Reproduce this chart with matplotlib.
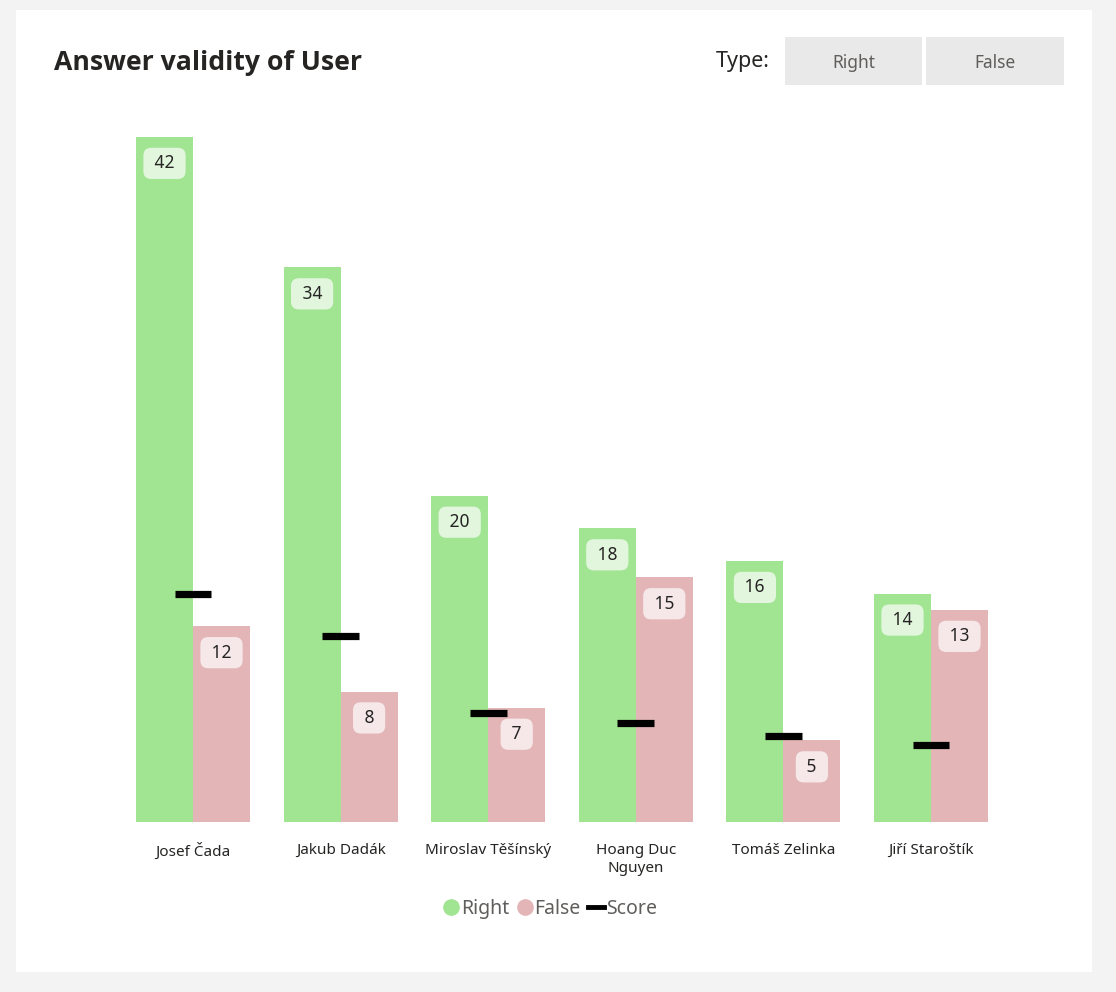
import matplotlib.pyplot as plt
import numpy as np
from matplotlib.patches import Rectangle
from matplotlib.lines import Line2D

plt.rcParams['font.family'] = ['Noto Sans', 'DejaVu Sans']

# data
users = ['Josef Čada', 'Jakub Dadák', 'Miroslav Těšínský', 'Hoang Duc\nNguyen',
         'Tomáš Zelinka', 'Jiří Staroštík']
right = [42, 34, 20, 18, 16, 14]
false = [12, 8, 7, 15, 5, 13]
score = [14.0, 11.4, 6.7, 6.1, 5.3, 4.7]

GREEN = '#a1e492'
PINK = '#e3b5b7'

W, H = 1116, 992
fig = plt.figure(figsize=(W / 100, H / 100), dpi=100)
fig.patch.set_facecolor('#f3f3f3')

# white card
fig.patches.append(Rectangle((16 / W, 1 - 972 / H), (1092 - 16) / W, (972 - 10) / H,
                             transform=fig.transFigure, fc='white', ec='none', zorder=-2))

fig.text(54 / W, 1 - 63 / H, 'Answer validity of User', fontsize=19.2, fontweight='bold',
         family=['Open Sans', 'DejaVu Sans'], color='#252423', va='center', ha='left')

# "Type" slicer
fig.text(770 / W, 1 - 61 / H, 'Type:', fontsize=15.5, color='#252423', va='center', ha='right')
for x0, x1, lab in [(785, 922, 'Right'), (926, 1064, 'False')]:
    fig.patches.append(Rectangle((x0 / W, 1 - 85 / H), (x1 - x0) / W, 48 / H,
                                 transform=fig.transFigure, fc='#e9e9e9', ec='none', zorder=-1))
    fig.text((x0 + x1) / 2 / W, 1 - 62.5 / H, lab, fontsize=12.5, color='#605e5c',
             va='center', ha='center')

# axes placed so baseline sits at y=822px and group centres at 193 + 147.6*i
L, R, T, B = 110, 1030, 120, 822
ax = fig.add_axes([L / W, 1 - B / H, (R - L) / W, (B - T) / H])
ax.set_facecolor('none')
step = 147.6
ax.set_xlim((L - 193) / step, (R - 193) / step)
ax.set_ylim(0, (B - T) / 16.31)

x = np.arange(len(users))
bw = 57 / step
ax.bar(x - bw / 2, right, bw, color=GREEN, zorder=2)
ax.bar(x + bw / 2, false, bw, color=PINK, zorder=2)
ax.hlines(score, x - 0.125, x + 0.125, color='black', lw=5.2, zorder=4)

# value labels: spaces widen the rounded box like the original
for xi, r, f in zip(x, right, false):
    for xx, v in [(xi - bw / 2, r), (xi + bw / 2, f)]:
        ax.annotate(f' {v} ', (xx, v), xytext=(0, -19), textcoords='offset points',
                    ha='center', va='center', fontsize=12.5, color='#252423', zorder=5,
                    bbox=dict(boxstyle='round,pad=0.38,rounding_size=0.45', fc='white',
                              ec='none', alpha=0.7))

ax.set_xticks(x)
ax.set_xticklabels(users, fontsize=11, color='#252423', linespacing=1.3)
ax.tick_params(axis='x', length=0, pad=15)
ax.set_yticks([])
for s in ax.spines.values():
    s.set_visible(False)

handles = [
    Line2D([], [], marker='o', ls='none', color=GREEN, markersize=11),
    Line2D([], [], marker='o', ls='none', color=PINK, markersize=11),
    Line2D([], [], color='black', lw=3.5),
]
leg = fig.legend(handles, ['Right', 'False', 'Score'], loc='center',
                 bbox_to_anchor=(550 / W, 1 - 909 / H), ncol=3, frameon=False,
                 fontsize=14, handletextpad=0.1, columnspacing=0.4, handlelength=0.8)
for t in leg.get_texts():
    t.set_color('#605e5c')

fig.savefig('out.png', dpi=100, facecolor=fig.get_facecolor())
